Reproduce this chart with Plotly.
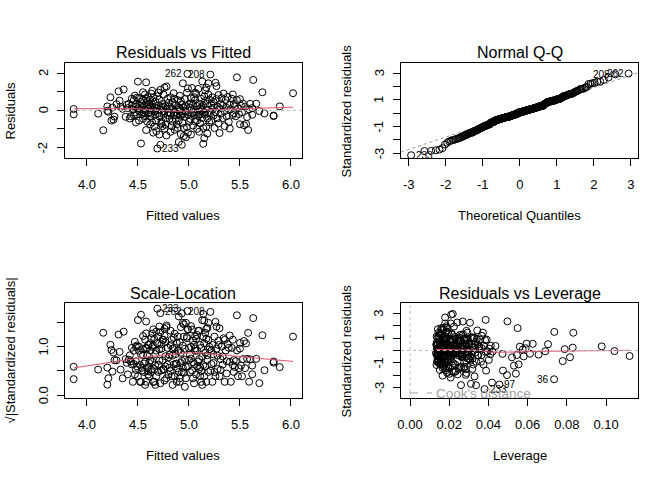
import numpy as np
import plotly.graph_objects as go
from statistics import NormalDist

# ---------------- data ----------------
point_ids = ["233", "262", "208", "97", "36"]   # ids of the first five observations below

fitted = [
    4.69, 4.985, 5.21, 5.14, 5.15,
    3.87, 3.87, 4.11, 4.16, 4.20, 4.20, 4.21, 4.23, 4.24, 4.25,
    4.26, 4.27, 4.29, 4.31, 4.32, 4.33, 4.35, 4.36, 4.38, 4.39,
    4.40, 4.41, 4.42, 4.43, 4.44, 4.44, 4.45,
    4.46, 4.47, 4.47, 4.48, 4.48, 4.49, 4.50, 4.50, 4.51, 4.51,
    4.52, 4.52, 4.53, 4.53, 4.54, 4.54, 4.55, 4.55, 4.56, 4.56,
    4.57, 4.57, 4.58, 4.58, 4.58, 4.59, 4.59, 4.59, 4.60, 4.60,
    4.60, 4.46, 4.49, 4.53, 4.55, 4.57, 4.58, 4.48,
    4.61, 4.61, 4.62, 4.62, 4.63, 4.63, 4.63, 4.64, 4.64, 4.65,
    4.65, 4.65, 4.66, 4.66, 4.67, 4.67, 4.68, 4.68, 4.68, 4.69,
    4.70, 4.70, 4.71, 4.71, 4.71, 4.72, 4.72, 4.72, 4.73, 4.73,
    4.74, 4.74, 4.75, 4.75, 4.76, 4.76, 4.76, 4.77, 4.77, 4.78,
    4.78, 4.78, 4.79, 4.79, 4.80, 4.80, 4.62, 4.64, 4.66, 4.70,
    4.73, 4.75, 4.77, 4.67,
    4.81, 4.81, 4.82, 4.82, 4.83, 4.83, 4.84, 4.84, 4.85, 4.85,
    4.86, 4.86, 4.87, 4.87, 4.88, 4.88, 4.89, 4.89, 4.90, 4.90,
    4.90, 4.91, 4.91, 4.92, 4.92, 4.93, 4.93, 4.93, 4.94, 4.94,
    4.95, 4.95, 4.96, 4.96, 4.97, 4.97, 4.98, 4.98, 4.99, 4.99,
    5.00, 5.00, 4.82, 4.84, 4.86, 4.88, 4.89, 4.91, 4.92, 4.94,
    4.95, 4.96, 4.97, 4.99,
    5.01, 5.01, 5.02, 5.02, 5.03, 5.03, 5.04, 5.04, 5.05, 5.05,
    5.06, 5.06, 5.07, 5.07, 5.08, 5.08, 5.09, 5.09, 5.10, 5.10,
    5.11, 5.11, 5.12, 5.12, 5.13, 5.13, 5.14, 5.15, 5.16, 5.16,
    5.17, 5.17, 5.17, 5.18, 5.18, 5.19, 5.19, 5.20, 5.20,
    5.02, 5.04, 5.06, 5.08, 5.10, 5.12, 5.14, 5.16, 5.18, 5.19,
    5.05, 5.11, 5.15, 5.13,
    5.21, 5.22, 5.22, 5.23, 5.23, 5.24, 5.24, 5.25, 5.25, 5.26,
    5.26, 5.27, 5.27, 5.28, 5.28, 5.29, 5.29, 5.30, 5.30, 5.31,
    5.31, 5.32, 5.33, 5.33, 5.34, 5.35, 5.35, 5.36, 5.37, 5.37,
    5.38, 5.39, 5.40, 5.40, 5.41, 5.42, 5.43, 5.43, 5.44, 5.44,
    5.45,
    5.46, 5.47, 5.47, 5.48, 5.49, 5.50, 5.50, 5.51, 5.52, 5.53,
    5.54, 5.55, 5.56, 5.57, 5.58, 5.59,
    5.62, 5.62, 5.63, 5.66, 5.69, 5.72, 5.74, 5.83, 5.83, 5.89,
    6.02, 5.60,
]

residuals = [
    -2.05, 1.96, 1.92, -1.80, -1.50,
    0.07, -0.22, -0.18, -1.07, 0.21, -0.03, -0.08, 0.70, -0.55, 0.15,
    -0.50, -0.34, 0.33, 1.02, 0.52, 0.18, 0.08, 1.12, -0.35, 0.29,
    0.12, 0.35, -0.44, -0.32, 0.26, 0.62, 0.05,
    0.55, 0.79, -0.12, 0.18, 0.32, -0.23, 1.54, 0.10, 0.65, -0.55,
    0.25, -0.05, -1.78, 0.46, 0.17, -0.21, 0.97, 0.58, -0.15, 0.28,
    0.03, -0.31, 1.50, -1.06, 0.62, 0.21, -0.60, 0.44, -0.16, 0.70,
    0.12, -0.27, 0.68, 0.05, -0.45, 0.85, -0.05, -0.65,
    0.29, -0.10, 0.55, -0.34, 0.90, 0.15, -0.18, 0.31, -0.65, 0.05,
    -1.20, 0.68, -0.87, 0.19, -0.25, 0.47, -1.12, 0.10, -0.55, 0.75,
    -0.15, 0.26, -1.30, -0.33, 0.58, -1.85, 1.10, 0.04, -0.72, 0.17,
    -0.85, 0.34, -0.19, 0.85, 1.22, -0.06, -0.98, 0.23, -0.42, 1.28,
    -1.35, 0.08, -0.26, 0.62, -0.12, 0.40, -0.75, 1.05, -0.05, 0.95,
    -0.60, 0.18, -0.78, -0.03,
    0.21, -0.45, 0.70, -0.16, -0.85, 0.10, 0.44, -0.60, -0.26, 0.92,
    -0.10, -1.05, 0.27, -0.47, 0.05, -0.75, 0.55, -0.20, -1.70, 0.15,
    -0.55, -0.05, 0.78, -0.29, -1.28, -1.85, 0.33, -0.15, 1.45, -0.68,
    -1.38, 0.14, -0.35, 0.60, -1.45, -0.08, 0.95, -0.90, 1.18, -0.23,
    0.34, -0.62, -1.15, 0.03, 0.62, -0.28, -0.95, 0.08, 0.50, -0.21,
    -0.95, -0.02, 0.22, -1.20,
    0.15, -0.46, -1.30, 0.65, -0.17, 1.20, 0.30, -0.82, 0.04, -0.27,
    0.55, -0.60, 0.88, -0.12, -1.00, 0.23, 1.15, -0.31, 0.36, -0.19,
    -0.70, 0.10, 0.62, -0.05, 1.55, -0.41, 0.25, 0.75, -0.23, 1.07,
    1.22, -0.88, 0.05, 0.35, -0.44, 1.45, -0.15, 0.58, -0.65,
    0.37, -0.08, 0.95, -0.55, -1.15, 0.16, -0.95, 0.50, -1.25, 0.85,
    0.70, -0.22, -0.10, 0.03,
    -0.17, 0.27, -0.55, 0.70, 0.05, -0.29, 0.46, -0.95, 0.15, 1.48,
    -0.10, 0.60, 1.30, -0.43, 0.19, 0.82, -0.70, -1.22, 0.10, 0.36,
    -0.18, 0.65, -0.42, 0.26, 0.90, -0.05, -0.85, 0.55, -0.32, 0.13,
    0.72, -0.62, 0.31, -0.98, 0.05, 0.62, -0.25, 0.85, -0.15, 0.34,
    0.22,
    -0.32, 1.77, 0.55, 0.10, -0.20, 0.60, -0.75, 0.24, -0.10, 0.36,
    -0.80, 0.20, -0.73, -0.36, -1.06, 0.05,
    -0.24, 0.12, 1.63, 0.36, -0.04, 0.97, -0.17, -0.28, -0.31, 0.21,
    0.92, 0.35,
]

leverage = [
    0.0380, 0.0218, 0.0210, 0.0456, 0.0735,
    0.0789, 0.0656, 0.0472, 0.0388, 0.0352, 0.1043, 0.0295, 0.0312, 0.0779, 0.0830,
    0.0402, 0.0264, 0.0704, 0.0186, 0.0241, 0.0317, 0.0138, 0.0162, 0.0816, 0.0225,
    0.0289, 0.0153, 0.0205, 0.0144, 0.0376, 0.0249, 0.0196,
    0.0171, 0.0148, 0.0332, 0.0228, 0.0137, 0.0263, 0.0497, 0.0191, 0.0284, 0.0159,
    0.0412, 0.0217, 0.0311, 0.0175, 0.0246, 0.0139, 0.0193, 0.0357, 0.0222, 0.0168,
    0.0301, 0.0147, 0.0241, 0.0183, 0.0274, 0.0156, 0.0338, 0.0209, 0.0133, 0.0251,
    0.0187, 0.0162, 0.0318, 0.0236, 0.0142, 0.0271, 0.0395, 0.0178,
    0.0219, 0.0134, 0.0296, 0.0172, 0.0151, 0.0262, 0.0203, 0.0345, 0.0157, 0.0226,
    0.0189, 0.0140, 0.0278, 0.0199, 0.0365, 0.0164, 0.0233, 0.0146, 0.0308, 0.0181,
    0.0255, 0.0136, 0.0284, 0.0212, 0.0391, 0.0337, 0.0169, 0.0243, 0.0154, 0.0326,
    0.0197, 0.0143, 0.0268, 0.0214, 0.0189, 0.0421, 0.0247, 0.0158, 0.0292, 0.0224,
    0.0166, 0.0351, 0.0138, 0.0277, 0.0205, 0.0163, 0.0231, 0.0288, 0.0149, 0.0372,
    0.0194, 0.0258, 0.0135, 0.0316,
    0.0177, 0.0302, 0.0148, 0.0239, 0.0186, 0.0271, 0.0137, 0.0213, 0.0348, 0.0160,
    0.0227, 0.0152, 0.0289, 0.0195, 0.0141, 0.0323, 0.0208, 0.0171, 0.0418, 0.0256,
    0.0144, 0.0199, 0.0367, 0.0161, 0.0243, 0.0260, 0.0134, 0.0281, 0.0179, 0.0221,
    0.0329, 0.0155, 0.0264, 0.0188, 0.0207, 0.0386, 0.0145, 0.0252, 0.0549, 0.0168,
    0.0297, 0.0139, 0.0226, 0.0183, 0.0341, 0.0157, 0.0272, 0.0211, 0.0149, 0.0314,
    0.0176, 0.0234, 0.0163, 0.0288,
    0.0203, 0.0147, 0.0495, 0.0182, 0.0266, 0.0159, 0.0331, 0.0216, 0.0138, 0.0249,
    0.0174, 0.0362, 0.0197, 0.0153, 0.0285, 0.0228, 0.0142, 0.0307, 0.0185, 0.0258,
    0.0166, 0.0403, 0.0231, 0.0150, 0.0269, 0.0192, 0.0279, 0.0136, 0.0224, 0.0343,
    0.0170, 0.0262, 0.0198, 0.0154, 0.0319, 0.0208, 0.0143, 0.0275, 0.0181,
    0.0240, 0.0161, 0.0293, 0.0139, 0.0219, 0.0354, 0.0167, 0.0248, 0.0201, 0.0157,
    0.0325, 0.0189, 0.0236, 0.0146,
    0.0232, 0.0158, 0.0287, 0.0173, 0.0245, 0.0140, 0.0336, 0.0196, 0.0264, 0.0306,
    0.0152, 0.0218, 0.0185, 0.0299, 0.0167, 0.0253, 0.0149, 0.0540, 0.0207, 0.0281,
    0.0164, 0.0327, 0.0178, 0.0240, 0.0213, 0.0292, 0.0171, 0.0256, 0.0198, 0.0365,
    0.0229, 0.0276, 0.0184, 0.0318, 0.0238, 0.0203, 0.0345, 0.0261, 0.0222, 0.0302,
    0.0270,
    0.0266, 0.0179, 0.0383, 0.0228, 0.0410, 0.0287, 0.0375, 0.0436, 0.0259, 0.0315,
    0.0530, 0.0560, 0.0554, 0.0520, 0.0474, 0.0575,
    0.0545, 0.0590, 0.0386, 0.0595, 0.0690, 0.0736, 0.0612, 0.1120, 0.0580, 0.0978,
    0.0833, 0.0626,
]

sigma = 0.665          # residual standard error
n_coef = 4             # model coefficients (for Cook's distance ranking)

panel_titles = ["Residuals vs Fitted", "Normal Q-Q", "Scale-Location", "Residuals vs Leverage"]
x_titles = ["Fitted values", "Theoretical Quantiles", "Fitted values", "Leverage"]
y_titles = ["Residuals", "Standardized residuals", "\u221a|Standardized residuals|", "Standardized residuals"]

# ---------------- derived quantities ----------------
m = min(len(fitted), len(residuals), len(leverage))
fv = np.array(fitted[:m], float)
rr = np.array(residuals[:m], float)
hh = np.array(leverage[:m], float)
n = m
rs = rr / (sigma * np.sqrt(1 - hh))
sqrt_abs = np.sqrt(np.abs(rs))
cooks = rs ** 2 * hh / (n_coef * (1 - hh))


def lowess(x, y, f=2 / 3, iters=3):
    x = np.asarray(x, float)
    y = np.asarray(y, float)
    o = np.argsort(x, kind="mergesort")
    x, y = x[o], y[o]
    nn = len(x)
    ns = max(min(int(f * nn + 1e-7), nn), 2)
    rw = np.ones(nn)
    ys = np.zeros(nn)
    rng = x[-1] - x[0]
    for it in range(iters + 1):
        for i in range(nn):
            d = np.abs(x - x[i])
            h = np.sort(d)[ns - 1]
            if h > 0:
                u = d / h
                w = np.where(u < 0.999, (1 - u ** 3) ** 3, 0.0)
                w[d <= 0.001 * h] = 1.0
            else:
                w = (d == 0).astype(float)
            w = w * rw
            sw = w.sum()
            if sw <= 0:
                ys[i] = y[i]
                continue
            w = w / sw
            xm = (w * x).sum()
            c = (w * (x - xm) ** 2).sum()
            if np.sqrt(c) > 0.001 * rng:
                b = (w * (x - xm) * y).sum() / c
                ys[i] = (w * y).sum() + b * (x[i] - xm)
            else:
                ys[i] = (w * y).sum()
        if it == iters:
            break
        res = y - ys
        cmad = 6 * np.median(np.abs(res))
        if cmad <= 0:
            break
        u = np.abs(res) / cmad
        rw = np.where(u < 1, (1 - u ** 2) ** 2, 0.0)
    return x, ys


# ---------------- figure ----------------
W, H = 672, 480
FONT = "Liberation Sans, Arial, Helvetica, sans-serif"
RED = "#DF536B"
GRAY = "#BEBEBE"
TICK_SIZE = 13
AXT_SIZE = 13
TITLE_SIZE = 16

boxes = {1: (65, 302, 63, 158), 2: (401, 638, 63, 158),
         3: (65, 302, 303, 398), 4: (401, 638, 303, 398)}

ranges = {
    1: ([3.785, 6.108], [-2.56, 2.54]),
    2: ([-3.208, 3.19], [-3.35, 3.77]),
    3: ([3.785, 6.108], [-0.055, 1.89]),
    4: ([-0.0046, 0.1163], [-3.87, 3.87]),
}
xticks = {
    1: ([4.0, 4.5, 5.0, 5.5, 6.0], ["4.0", "4.5", "5.0", "5.5", "6.0"]),
    2: ([-3, -2, -1, 0, 1, 2, 3], ["-3", "-2", "-1", "0", "1", "2", "3"]),
    3: ([4.0, 4.5, 5.0, 5.5, 6.0], ["4.0", "4.5", "5.0", "5.5", "6.0"]),
    4: ([0, 0.02, 0.04, 0.06, 0.08, 0.10], ["0.00", "0.02", "0.04", "0.06", "0.08", "0.10"]),
}
yticks = {
    1: ([-2, -1, 0, 1, 2], ["-2", "", "0", "", "2"]),
    2: ([-3, -2, -1, 0, 1, 2, 3], ["-3", "", "-1", "", "1", "", "3"]),
    3: ([0, 0.5, 1.0, 1.5], ["0.0", "", "1.0", ""]),
    4: ([-3, -2, -1, 0, 1, 2, 3], ["-3", "", "-1", "", "1", "", "3"]),
}

fig = go.Figure()
layout = dict(
    width=W, height=H, margin=dict(l=0, r=0, t=0, b=0),
    paper_bgcolor="white", plot_bgcolor="white", showlegend=False,
    font=dict(family=FONT, size=12, color="black"),
)
annotations = []
shapes = []

for k in range(1, 5):
    x0, x1, y0, y1 = boxes[k]
    sfx = "" if k == 1 else str(k)
    common = dict(showgrid=False, zeroline=False, showline=True, mirror=True,
                  linecolor="black", linewidth=1, ticks="outside", ticklen=7,
                  tickwidth=1, tickcolor="black", tickfont=dict(size=TICK_SIZE, family=FONT),
                  fixedrange=True, automargin=False)
    layout["xaxis" + sfx] = dict(common, domain=[x0 / W, x1 / W], range=ranges[k][0],
                                 anchor="y" + sfx, tickvals=xticks[k][0], ticktext=xticks[k][1],
                                 ticklabelstandoff=7)
    layout["yaxis" + sfx] = dict(common, domain=[1 - y1 / H, 1 - y0 / H], range=ranges[k][1],
                                 anchor="x" + sfx, tickvals=yticks[k][0], showticklabels=False)
    # vertical y tick labels, R style (parallel to the axis)
    for v, t in zip(*yticks[k]):
        if t:
            annotations.append(dict(text=t, x=(x0 - 22) / W, y=v, xref="paper", yref="y" + sfx,
                                    showarrow=False, textangle=-90, xanchor="center", yanchor="middle",
                                    font=dict(size=TICK_SIZE, family=FONT)))
    cx = (x0 + x1) / 2
    cy = (y0 + y1) / 2
    annotations.append(dict(text=panel_titles[k - 1], x=cx / W, y=1 - (y0 - 10) / H,
                            xref="paper", yref="paper", showarrow=False,
                            font=dict(size=TITLE_SIZE, family=FONT), xanchor="center", yanchor="middle"))
    annotations.append(dict(text=x_titles[k - 1], x=cx / W, y=1 - (y1 + 57) / H,
                            xref="paper", yref="paper", showarrow=False,
                            font=dict(size=AXT_SIZE, family=FONT), xanchor="center", yanchor="middle"))
    annotations.append(dict(text=y_titles[k - 1], x=(x0 - 55) / W, y=1 - cy / H,
                            xref="paper", yref="paper", showarrow=False, textangle=-90,
                            font=dict(size=AXT_SIZE, family=FONT), xanchor="center", yanchor="middle"))

marker = dict(symbol="circle-open", size=7, color="black", line=dict(width=1, color="black"))


def add_labels(k, xs, ys, order, xmid):
    sfx = "" if k == 1 else str(k)
    for i in order:
        if i >= len(point_ids):
            continue
        right = xs[i] <= xmid
        annotations.append(dict(text=point_ids[i], x=xs[i], y=ys[i],
                                xref="x" + sfx, yref="y" + sfx, showarrow=False,
                                xanchor="left" if right else "right", yanchor="middle",
                                xshift=3 if right else -3,
                                font=dict(size=10, family=FONT, color="black")))


# Panel 1: residuals vs fitted
shapes.append(dict(type="line", xref="x domain", yref="y", x0=0, x1=1, y0=0, y1=0,
                   line=dict(color=GRAY, width=1, dash="dot")))
fig.add_trace(go.Scatter(x=fv, y=rr, mode="markers", marker=marker, xaxis="x", yaxis="y"))
lx, ly = lowess(fv, rr)
fig.add_trace(go.Scatter(x=lx, y=ly, mode="lines", line=dict(color=RED, width=1), xaxis="x", yaxis="y"))
xmid1 = (fv.min() + fv.max()) / 2
add_labels(1, fv, rr, np.argsort(-np.abs(rr))[:3], xmid1)

# Panel 2: normal Q-Q
nd = NormalDist()
ordr = np.argsort(rs, kind="mergesort")
theo_sorted = np.array([nd.inv_cdf((i + 0.5) / n) for i in range(n)])
theo = np.empty(n)
theo[ordr] = theo_sorted
q1y, q3y = np.quantile(rs, [0.25, 0.75])
q1x, q3x = nd.inv_cdf(0.25), nd.inv_cdf(0.75)
slope = (q3y - q1y) / (q3x - q1x)
icpt = q1y - slope * q1x
xr2 = ranges[2][0]
fig.add_trace(go.Scatter(x=xr2, y=[icpt + slope * xr2[0], icpt + slope * xr2[1]], mode="lines",
                         line=dict(color="#999999", width=1, dash="dot"), xaxis="x2", yaxis="y2"))
fig.add_trace(go.Scatter(x=theo, y=rs, mode="markers", marker=marker, xaxis="x2", yaxis="y2"))
add_labels(2, theo, rs, np.argsort(-np.abs(rs))[:3], 0.0)

# Panel 3: scale-location
fig.add_trace(go.Scatter(x=fv, y=sqrt_abs, mode="markers", marker=marker, xaxis="x3", yaxis="y3"))
lx3, ly3 = lowess(fv, sqrt_abs)
fig.add_trace(go.Scatter(x=lx3, y=ly3, mode="lines", line=dict(color=RED, width=1), xaxis="x3", yaxis="y3"))
add_labels(3, fv, sqrt_abs, np.argsort(-sqrt_abs)[:3], xmid1)

# Panel 4: residuals vs leverage
shapes.append(dict(type="line", xref="x4 domain", yref="y4", x0=0, x1=1, y0=0, y1=0,
                   line=dict(color=GRAY, width=1, dash="dot")))
shapes.append(dict(type="line", xref="x4", yref="y4 domain", x0=0, x1=0, y0=0, y1=1,
                   line=dict(color=GRAY, width=1, dash="dot")))
fig.add_trace(go.Scatter(x=hh, y=rs, mode="markers", marker=marker, xaxis="x4", yaxis="y4"))
lx4, ly4 = lowess(hh, rs)
fig.add_trace(go.Scatter(x=lx4, y=ly4, mode="lines", line=dict(color=RED, width=1), xaxis="x4", yaxis="y4"))
add_labels(4, hh, rs, np.argsort(-cooks)[:3], (hh.min() + hh.max()) / 2)

# Cook's distance legend (bottom-left of panel 4)
x0, x1, y0, y1 = boxes[4]
ly_leg = 1 - (y1 - 5) / H
shapes.append(dict(type="line", xref="paper", yref="paper",
                   x0=(x0 + 8) / W, x1=(x0 + 31) / W, y0=ly_leg, y1=ly_leg,
                   line=dict(color="#9E9E9E", width=1, dash="dash")))
annotations.append(dict(text="Cook's distance", x=(x0 + 33) / W, y=ly_leg,
                        xref="paper", yref="paper", showarrow=False, xanchor="left", yanchor="middle",
                        font=dict(size=13.5, family=FONT, color="#9E9E9E")))

layout["annotations"] = annotations
layout["shapes"] = shapes
fig.update_layout(**layout)
fig.write_html("out.html", config={"displayModeBar": False},
               post_script="document.body.style.margin='0';document.body.style.overflow='hidden';")
